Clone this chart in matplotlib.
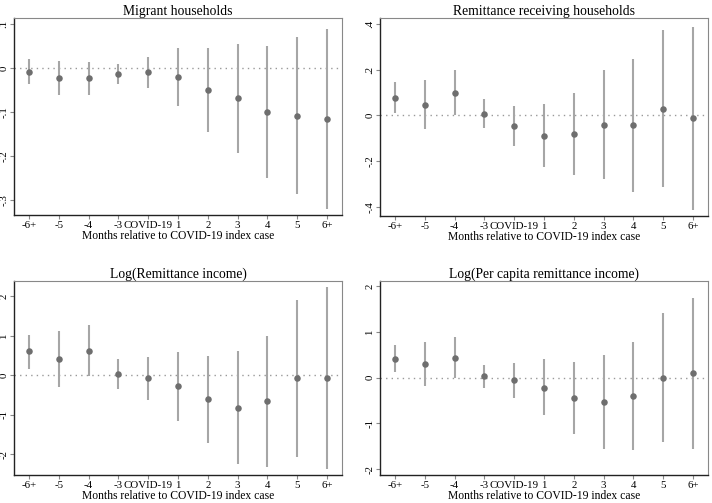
import matplotlib.pyplot as plt
import numpy as np

plt.rcParams['font.family'] = ['Liberation Serif', 'DejaVu Serif']

months = ['-6+', '-5', '-4', '-3', 'COVID-19', '1', '2', '3', '4', '5', '6+']

# Migrant households
mig_est = [-0.008, -0.023, -0.023, -0.014, -0.010, -0.020, -0.049, -0.069, -0.099, -0.108, -0.116]
mig_hi = [0.021, 0.015, 0.014, 0.008, 0.026, 0.045, 0.046, 0.055, 0.051, 0.070, 0.089]
mig_lo = [-0.036, -0.062, -0.061, -0.036, -0.045, -0.086, -0.145, -0.193, -0.250, -0.286, -0.320]

# Remittance receiving households
rec_est = [0.077, 0.047, 0.099, 0.007, -0.047, -0.089, -0.082, -0.041, -0.044, 0.028, -0.013]
rec_hi = [0.145, 0.153, 0.200, 0.070, 0.041, 0.048, 0.099, 0.197, 0.248, 0.372, 0.384]
rec_lo = [0.010, -0.061, 0.000, -0.055, -0.133, -0.226, -0.261, -0.279, -0.336, -0.314, -0.412]

# Log(Remittance income)
inc_est = [0.61, 0.41, 0.625, 0.03, -0.075, -0.275, -0.61, -0.82, -0.66, -0.075, -0.06]
inc_hi = [1.03, 1.12, 1.27, 0.42, 0.475, 0.58, 0.50, 0.625, 0.99, 1.92, 2.25]
inc_lo = [0.17, -0.29, -0.02, -0.34, -0.63, -1.15, -1.72, -2.25, -2.32, -2.08, -2.375]

# Log(Per capita remittance income)
pc_est = [0.41, 0.29, 0.42, 0.03, -0.05, -0.22, -0.45, -0.525, -0.40, -0.01, 0.09]
pc_hi = [0.71, 0.78, 0.88, 0.28, 0.32, 0.40, 0.33, 0.50, 0.77, 1.40, 1.74]
pc_lo = [0.115, -0.19, -0.01, -0.22, -0.44, -0.83, -1.24, -1.56, -1.575, -1.41, -1.555]

panels = [
    ('Migrant households', mig_est, mig_lo, mig_hi,
     [0.1, 0, -0.1, -0.2, -0.3], ['.1', '0', '-.1', '-.2', '-.3'], (-0.334, 0.1136)),
    ('Remittance receiving households', rec_est, rec_lo, rec_hi,
     [0.4, 0.2, 0, -0.2, -0.4], ['.4', '.2', '0', '-.2', '-.4'], (-0.44, 0.425)),
    ('Log(Remittance income)', inc_est, inc_lo, inc_hi,
     [2, 1, 0, -1, -2], ['2', '1', '0', '-1', '-2'], (-2.525, 2.39)),
    ('Log(Per capita remittance income)', pc_est, pc_lo, pc_hi,
     [2, 1, 0, -1, -2], ['2', '1', '0', '-1', '-2'], (-2.13, 2.11)),
]

rects = [
    [0.0197, 0.5726, 0.4607, 0.3916],
    [0.5337, 0.5706, 0.4607, 0.3936],
    [0.0197, 0.0557, 0.4607, 0.3857],
    [0.5337, 0.0557, 0.4607, 0.3857],
]

fig = plt.figure(figsize=(7.12, 5.03), dpi=100)
x = np.arange(len(months))

for rect, (title, est, lo, hi, yt, ytl, ylim) in zip(rects, panels):
    ax = fig.add_axes(rect)
    ax.axhline(0, color='#999999', linestyle=(0, (1, 3)), linewidth=1, zorder=1)
    ax.vlines(x, lo, hi, color='#a6a6a6', linewidth=1.5, zorder=2)
    ax.scatter(x, est, s=22, color='#6e6e6e', zorder=3, linewidths=0)
    ax.set_xlim(-0.5, 10.5)
    ax.set_ylim(*ylim)
    ax.set_xticks(x)
    ax.set_xticklabels(months, fontsize=7.8)
    ax.set_yticks(yt)
    ax.set_yticklabels(ytl, fontsize=7.8, rotation=90, va='center')
    ax.tick_params(axis='both', length=3, width=0.8, color='#888888', pad=1)
    ax.set_title(title, fontsize=9.8, pad=2)
    ax.set_xlabel('Months relative to COVID-19 index case', fontsize=8.4, labelpad=0.5)
    for side in ['top', 'right']:
        ax.spines[side].set_color('#888888')
        ax.spines[side].set_linewidth(0.8)
    for side in ['left', 'bottom']:
        ax.spines[side].set_color('#222222')
        ax.spines[side].set_linewidth(1.0)

fig.savefig('out.png', dpi=100)
